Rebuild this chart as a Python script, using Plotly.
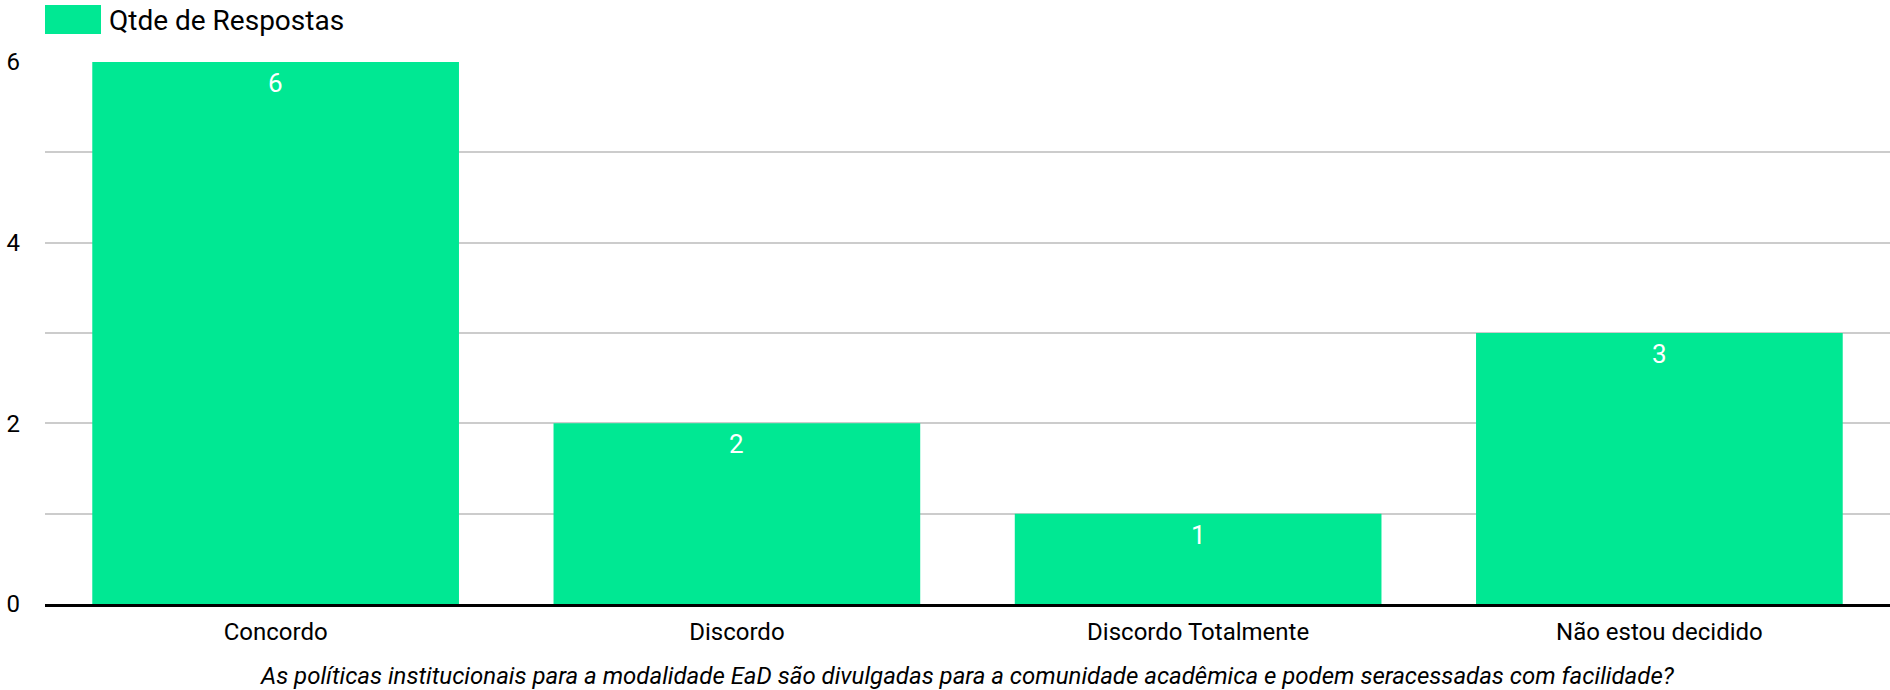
import plotly.graph_objects as go

categories = ["Concordo", "Discordo", "Discordo Totalmente", "Não estou decidido"]
respostas = [6, 2, 1, 3]
series_name = "Qtde de Respostas"
x_title = ("As políticas institucionais para a modalidade EaD são divulgadas para a "
           "comunidade acadêmica e podem seracessadas com facilidade?")

GREEN = "#00e893"
FONT = "Roboto, Arial, sans-serif"

fig = go.Figure()
fig.add_trace(go.Bar(
    x=categories, y=respostas,
    name=series_name,
    marker=dict(color=GREEN, line=dict(width=0)),
    showlegend=False,
    hoverinfo="x+y",
))

# value labels just inside the top of each bar
for cat, val in zip(categories, respostas):
    fig.add_annotation(x=cat, y=val, text=str(val), showarrow=False,
                       yanchor="middle", yshift=-21,
                       font=dict(color="white", size=26, family=FONT))

# legend drawn by hand (large colour swatch)
fig.add_shape(type="rect", xref="paper", yref="paper",
              xsizemode="pixel", ysizemode="pixel",
              xanchor=0, yanchor=1, x0=0, x1=56, y0=28, y1=57,
              fillcolor=GREEN, line=dict(width=0))
fig.add_annotation(text=series_name, xref="paper", yref="paper",
                   x=0, y=1, xanchor="left", yanchor="middle",
                   xshift=62, yshift=42, showarrow=False,
                   font=dict(size=28, color="#000", family=FONT))

# x-axis title as annotation (plotly clamps the real title inside the margin)
fig.add_annotation(text="<i>" + x_title + "</i>", xref="paper", yref="paper",
                   x=0.5, y=0, xanchor="center", yanchor="middle",
                   yshift=-72, showarrow=False,
                   font=dict(size=24, color="#000", family=FONT))

fig.update_layout(
    width=1890, height=690,
    margin=dict(l=45, r=0, t=62, b=86),
    plot_bgcolor="white", paper_bgcolor="white",
    bargap=0.205,
    font=dict(family=FONT, size=24, color="#000"),
    xaxis=dict(
        showline=True, linecolor="black", linewidth=3,
        ticks="", ticklabelstandoff=4,
    ),
    yaxis=dict(
        range=[0, 6], tick0=0, dtick=2,
        showgrid=True, gridcolor="#cccccc", gridwidth=2,
        minor=dict(dtick=1, showgrid=True, gridcolor="#cccccc", gridwidth=2),
        zeroline=False, ticks="", ticklabelstandoff=24,
    ),
)

fig.write_html("out.html", config={"displayModeBar": False},
               post_script="document.body.style.margin='0';")
